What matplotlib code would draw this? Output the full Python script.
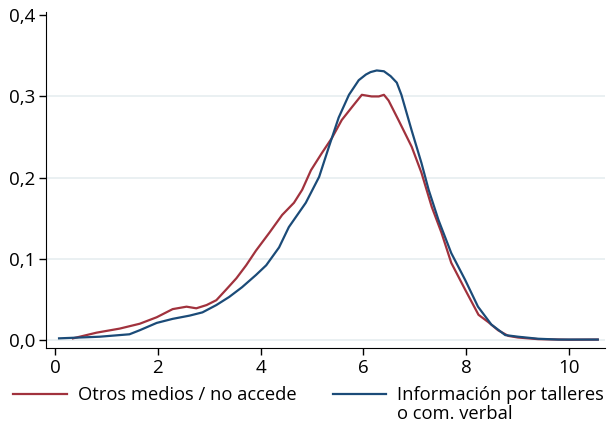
import matplotlib.pyplot as plt
from matplotlib.ticker import FuncFormatter

plt.rcParams['font.family'] = ['Open Sans', 'DejaVu Sans']

# Kernel density
otros_x = [0.35, 0.81, 1.26, 1.65, 1.98, 2.29, 2.56, 2.75, 2.95, 3.14, 3.33, 3.53, 3.72,
           3.91, 4.17, 4.42, 4.65, 4.81, 4.98, 5.19, 5.39, 5.58, 5.78, 5.97, 6.16, 6.3,
           6.4, 6.49, 6.69, 6.94, 7.13, 7.33, 7.52, 7.71, 7.98, 8.24, 8.43, 8.62, 8.82,
           9.01, 9.4, 10.0, 10.56]
otros_y = [0.002, 0.009, 0.014, 0.020, 0.028, 0.038, 0.041, 0.039, 0.043, 0.049, 0.062,
           0.076, 0.092, 0.110, 0.132, 0.154, 0.169, 0.185, 0.209, 0.230, 0.249, 0.271,
           0.287, 0.302, 0.300, 0.300, 0.302, 0.295, 0.270, 0.238, 0.206, 0.164, 0.132,
           0.095, 0.062, 0.031, 0.022, 0.012, 0.005, 0.003, 0.001, 0.0003, 0.0005]

info_x = [0.08, 0.87, 1.45, 1.65, 1.98, 2.29, 2.62, 2.87, 3.14, 3.39, 3.64, 3.91, 4.11,
          4.36, 4.55, 4.88, 5.14, 5.33, 5.52, 5.72, 5.91, 6.05, 6.14, 6.26, 6.4, 6.53,
          6.65, 6.74, 6.94, 7.13, 7.27, 7.46, 7.71, 7.98, 8.23, 8.49, 8.76, 9.01, 9.4,
          9.79, 10.56]
info_y = [0.002, 0.004, 0.007, 0.012, 0.021, 0.026, 0.030, 0.034, 0.043, 0.053, 0.065,
          0.080, 0.092, 0.114, 0.139, 0.169, 0.201, 0.238, 0.274, 0.302, 0.320, 0.327,
          0.330, 0.332, 0.331, 0.325, 0.317, 0.302, 0.258, 0.218, 0.185, 0.148, 0.107,
          0.074, 0.041, 0.019, 0.006, 0.004, 0.0015, 0.0005, 0.0005]

labels = ['Otros medios / no accede', 'Información por talleres']
label2_rest = 'o com. verbal'  # second line of the second legend entry
colors = ['#a1323d', '#1b4b78']

fig = plt.figure(figsize=(6.08, 4.29), dpi=100)
ax = fig.add_axes([0.076, 0.189, 0.919, 0.783])

ax.plot(otros_x, otros_y, color=colors[0], lw=1.6, label=labels[0])
ax.plot(info_x, info_y, color=colors[1], lw=1.6, label=labels[1])

ax.set_xlim(-0.17, 10.7)
ax.set_ylim(-0.0098, 0.404)
ax.set_xticks([0, 2, 4, 6, 8, 10])
ax.set_yticks([0, 0.1, 0.2, 0.3, 0.4])
ax.yaxis.set_major_formatter(FuncFormatter(lambda v, p: f'{v:.1f}'.replace('.', ',')))
for g in [0, 0.1, 0.2, 0.3]:
    ax.axhline(g, color='#e6eef0', lw=1.2, zorder=0)

for s in ['top', 'right']:
    ax.spines[s].set_visible(False)
ax.tick_params(labelsize=13.5, length=5, width=1, colors='black', pad=3)

leg = fig.legend(loc='center left', bbox_to_anchor=(0.022, 0.079), ncol=2, frameon=False,
                 fontsize=13.2, handlelength=2.9, handletextpad=0.6, columnspacing=2.0,
                 borderaxespad=0, borderpad=0)

# put the wrapped second line under the second legend label
fig.canvas.draw()
bb = leg.get_texts()[1].get_window_extent().transformed(fig.transFigure.inverted())
fig.text(bb.x0, 1 - 414 / 429, label2_rest, fontsize=13.2, va='center', ha='left')

plt.savefig('out.png', dpi=100)
